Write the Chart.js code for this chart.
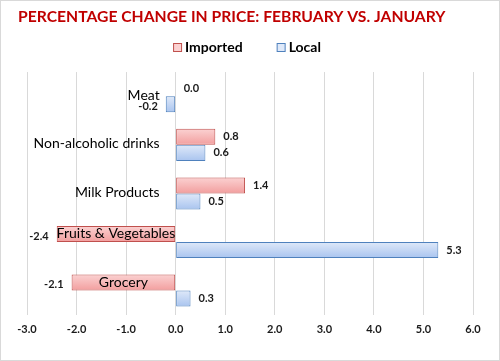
<!DOCTYPE html>
<html>
<head>
<meta charset="utf-8">
<script src="https://cdn.jsdelivr.net/npm/chart.js@4.4.1/dist/chart.umd.min.js"></script>
<style>
  html, body { margin: 0; padding: 0; background: #fff; }
  #wrap { width: 500px; height: 361px; position: relative; }
</style>
</head>
<body>
<div id="wrap"><canvas id="chart" width="500" height="361"></canvas></div>
<script>
// data
var categories = ["Meat", "Non-alcoholic drinks", "Milk Products", "Fruits & Vegetables", "Grocery"];
var importedValues = [0.0, 0.8, 1.4, -2.4, -2.1];
var localValues = [-0.2, 0.6, 0.5, 5.3, 0.3];
var seriesNames = ["Imported", "Local"];
var xMin = -3, xMax = 6;

var FONT = "Lato, 'Open Sans', sans-serif";
var fills = [["#fbd2d2", "#f29e9e"], ["#dfe9f9", "#a9c4ef"]];
var borders = ["#c0504d", "#4f81bd"];

// gradient fill per bar, set once the bars have their size
var gradientFill = {
    id: "gradientFill",
    beforeDatasetsDraw: function(chart) {
        var ctx = chart.ctx;
        chart.data.datasets.forEach(function(ds, di) {
            chart.getDatasetMeta(di).data.forEach(function(bar) {
                var h = bar.height || 1;
                var g = ctx.createLinearGradient(0, bar.y - h / 2, 0, bar.y + h / 2);
                g.addColorStop(0, fills[di][0]);
                g.addColorStop(1, fills[di][1]);
                bar.options.backgroundColor = g;
            });
        });
    }
};

// legend, category names next to zero line, value labels, outer border
var extras = {
    id: "extras",
    afterDatasetsDraw: function(chart) {
        var ctx = chart.ctx;
        var xs = chart.scales.x, ys = chart.scales.y;
        var zero = xs.getPixelForValue(0);
        ctx.save();

        // value labels
        ctx.font = "bold 11px " + FONT;
        ctx.fillStyle = "#1a1a1a";
        ctx.textBaseline = "middle";
        chart.data.datasets.forEach(function(ds, di) {
            chart.getDatasetMeta(di).data.forEach(function(bar, i) {
                var v = ds.data[i];
                if (v < 0) {
                    ctx.textAlign = "right";
                    ctx.fillText(v.toFixed(1), bar.x - 8, bar.y + 2);
                } else {
                    ctx.textAlign = "left";
                    ctx.fillText(v.toFixed(1), bar.x + 8, bar.y);
                }
            });
        });

        // category names
        ctx.font = "14px " + FONT;
        ctx.fillStyle = "#000";
        var imp = chart.getDatasetMeta(0).data;
        categories.forEach(function(name, i) {
            if (importedValues[i] < -1) {
                ctx.textAlign = "center";
                ctx.fillText(name, (imp[i].x + imp[i].base) / 2, imp[i].y);
            } else {
                ctx.textAlign = "right";
                ctx.fillText(name, zero - 16, ys.getPixelForValue(i) - 1);
            }
        });

        // legend
        ctx.font = "bold 14px " + FONT;
        var box = 8, gap = 4, between = 34;
        var widths = seriesNames.map(function(n) { return ctx.measureText(n).width; });
        var total = box + gap + widths[0] + between + box + gap + widths[1];
        var lx = chart.width / 2 - total / 2 - 3;
        var ly = 47;
        seriesNames.forEach(function(n, di) {
            ctx.fillStyle = fills[di][0];
            ctx.fillRect(lx + 0.5, ly - box / 2 + 0.5, box, box);
            ctx.strokeStyle = borders[di];
            ctx.lineWidth = 1;
            ctx.strokeRect(lx + 0.5, ly - box / 2 + 0.5, box, box);
            ctx.fillStyle = "#000";
            ctx.textAlign = "left";
            ctx.fillText(n, lx + box + gap, ly);
            lx += box + gap + widths[di] + between;
        });

        // chart border
        ctx.strokeStyle = "#d9d9d9";
        ctx.strokeRect(0.5, 0.5, chart.width - 1, chart.height - 1);
        ctx.restore();
    }
};

new Chart(document.getElementById("chart"), {
    type: "bar",
    data: {
        labels: categories,
        datasets: [
            {
                label: seriesNames[0],
                data: importedValues,
                backgroundColor: fills[0][0],
                borderColor: borders[0],
                borderWidth: function(c) { return c.raw === 0 ? 0 : 1; },
                borderSkipped: false
            },
            {
                label: seriesNames[1],
                data: localValues,
                backgroundColor: fills[1][0],
                borderColor: borders[1],
                borderWidth: function(c) { return c.raw === 0 ? 0 : 1; },
                borderSkipped: false
            }
        ]
    },
    options: {
        indexAxis: "y",
        responsive: false,
        animation: false,
        categoryPercentage: 0.66,
        barPercentage: 1,
        layout: { padding: { left: 18, right: 27, top: 0, bottom: 17 } },
        plugins: {
            legend: { display: false },
            tooltip: { enabled: false },
            title: {
                display: true,
                text: "PERCENTAGE CHANGE IN PRICE: FEBRUARY VS. JANUARY",
                align: "start",
                color: "#c00000",
                font: { family: FONT, size: 15.7, weight: "bold", lineHeight: 1.2 },
                padding: { top: 8, bottom: 45.2 }
            }
        },
        scales: {
            x: {
                min: xMin,
                max: xMax,
                ticks: {
                    stepSize: 1,
                    padding: 8,
                    color: "#1a1a1a",
                    font: { family: FONT, size: 11, weight: "bold" },
                    callback: function(v) { return Number(v).toFixed(1); }
                },
                grid: { color: "#d9d9d9", drawTicks: false },
                border: { display: false }
            },
            y: {
                ticks: { display: false },
                grid: { display: false },
                border: { display: false },
                afterFit: function(scale) { scale.width = 9; }
            }
        }
    },
    plugins: [gradientFill, extras]
});
</script>
</body>
</html>
